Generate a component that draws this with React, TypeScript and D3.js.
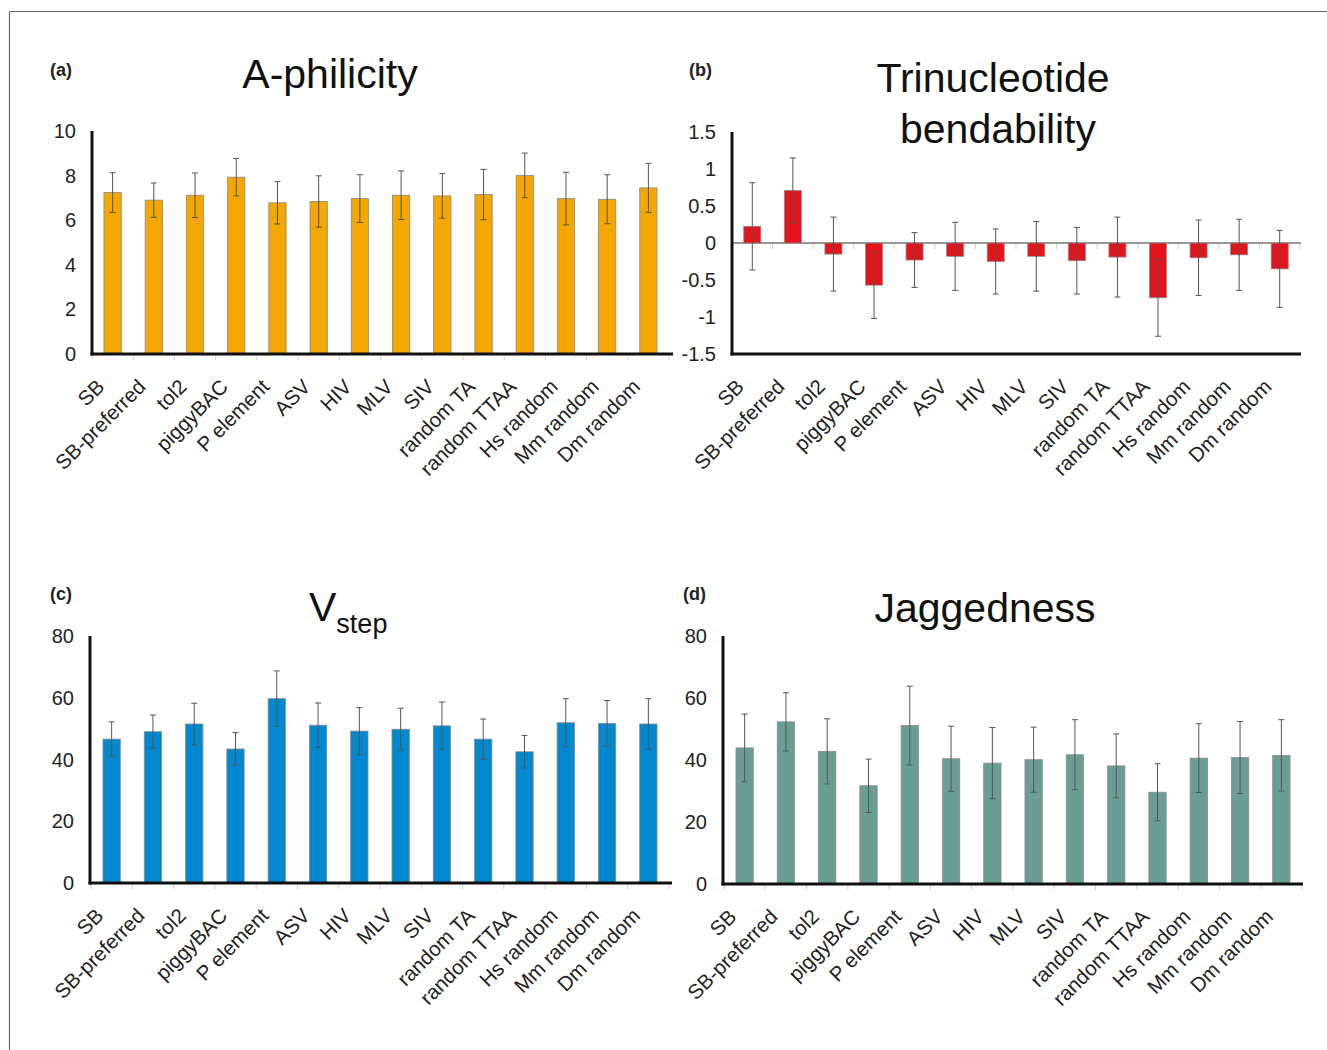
import React from "react";
import * as d3 from "d3";

const categories = ["SB", "SB-preferred", "tol2", "piggyBAC", "P element", "ASV", "HIV", "MLV", "SIV", "random TA", "random TTAA", "Hs random", "Mm random", "Dm random"];

const aphilicity = [7.24, 6.9, 7.12, 7.93, 6.78, 6.84, 6.97, 7.12, 7.09, 7.15, 8.01, 6.97, 6.94, 7.45];
const aphilicityErr = [0.89, 0.77, 1.0, 0.84, 0.95, 1.15, 1.07, 1.09, 1.0, 1.13, 1.0, 1.18, 1.1, 1.1];

const bendability = [0.225, 0.71, -0.15, -0.57, -0.23, -0.18, -0.25, -0.18, -0.24, -0.19, -0.74, -0.2, -0.16, -0.35];
const bendabilityErr = [0.59, 0.44, 0.5, 0.45, 0.37, 0.46, 0.44, 0.47, 0.45, 0.54, 0.52, 0.51, 0.48, 0.52];

const vstep = [46.6, 49.0, 51.5, 43.4, 59.7, 51.1, 49.2, 49.8, 50.9, 46.6, 42.5, 51.9, 51.7, 51.5];
const vstepErr = [5.6, 5.4, 6.7, 5.3, 9.0, 7.2, 7.6, 6.8, 7.7, 6.5, 5.3, 7.8, 7.4, 8.2];

const jaggedness = [43.9, 52.3, 42.8, 31.7, 51.1, 40.4, 39.0, 40.1, 41.7, 38.1, 29.6, 40.6, 40.8, 41.5];
const jaggednessErr = [10.9, 9.4, 10.5, 8.6, 12.7, 10.5, 11.5, 10.5, 11.3, 10.3, 9.2, 11.1, 11.6, 11.5];

const ticksA = [0, 2, 4, 6, 8, 10];
const ticksB = [-1.5, -1, -0.5, 0, 0.5, 1, 1.5];
const ticksC = [0, 20, 40, 60, 80];
const ticksD = [0, 20, 40, 60, 80];

const FONT = "'Liberation Sans', Arial, Helvetica, sans-serif";

type PanelProps = {
  values: number[];
  errors: number[];
  domain: [number, number];
  ticks: number[];
  color: string;
  axisX: number;
  rangeX: [number, number];
  axisEnd: number;
  top: number;
  bottom: number;
  zeroLine?: boolean;
};

function Panel(p: PanelProps) {
  const x = d3.scaleBand<string>().domain(categories).range(p.rangeX).paddingInner(0).paddingOuter(0);
  const bw = x.bandwidth();
  const barW = bw * 0.42;
  const y = d3.scaleLinear().domain(p.domain).range([p.bottom, p.top]);
  const y0 = y(Math.max(p.domain[0], 0));
  const tickY = p.zeroLine ? y(0) : p.bottom;
  return (
    <g>
      {d3.range(categories.length + 1).map((i) => {
        const tx = p.rangeX[0] + i * bw;
        return <line key={"bt" + i} x1={tx} x2={tx} y1={tickY} y2={tickY + 6} stroke="#d0d0d0" strokeWidth={1} />;
      })}
      {p.zeroLine && (
        <line x1={p.axisX} x2={p.axisEnd} y1={y(0)} y2={y(0)} stroke="#777" strokeWidth={1.5} />
      )}
      {categories.map((c, i) => {
        const v = p.values[i];
        const cx = (x(c) as number) + bw / 2;
        const yv = y(v);
        return (
          <rect key={"b" + i} x={cx - barW / 2} y={Math.min(yv, y0)} width={barW} height={Math.abs(y0 - yv)}
            fill={p.color} stroke="#8a8a8a" strokeWidth={0.8} />
        );
      })}
      {categories.map((c, i) => {
        const v = p.values[i];
        const e = p.errors[i];
        const cx = (x(c) as number) + bw / 2;
        const yt = y(v + e);
        const yb = y(v - e);
        return (
          <g key={"e" + i} stroke="#555" strokeWidth={1}>
            <line x1={cx} x2={cx} y1={yt} y2={yb} />
            <line x1={cx - 3} x2={cx + 3} y1={yt} y2={yt} />
            <line x1={cx - 3} x2={cx + 3} y1={yb} y2={yb} />
          </g>
        );
      })}
      <line x1={p.axisX} x2={p.axisX} y1={p.top} y2={p.bottom + 1.5} stroke="#111" strokeWidth={3} />
      <line x1={p.axisX - 1.5} x2={p.axisEnd} y1={p.bottom} y2={p.bottom} stroke="#111" strokeWidth={3} />
      {p.ticks.map((t) => (
        <text key={"yt" + t} x={p.axisX - 16} y={y(t)} dy="0.35em" textAnchor="end" fontSize={20} fill="#222" fontFamily={FONT}>
          {String(t)}
        </text>
      ))}
      {categories.map((c, i) => {
        const cx = (x(c) as number) + bw / 2;
        return (
          <text key={"xl" + i} transform={`translate(${cx - 7},${p.bottom + 34}) rotate(-45)`} textAnchor="end"
            fontSize={20.5} fill="#222" fontFamily={FONT}>
            {c}
          </text>
        );
      })}
    </g>
  );
}

export default function App() {
  return (
    <svg width={1327} height={1050} style={{ position: "absolute", left: 0, top: 0, background: "#fff" }}
      fontFamily={FONT}>
      <rect x={0} y={0} width={1327} height={1050} fill="#fff" />
      <line x1={9.5} x2={1327} y1={11.5} y2={11.5} stroke="#666" strokeWidth={1.2} />
      <line x1={9.5} x2={9.5} y1={11.5} y2={1050} stroke="#666" strokeWidth={1.2} />

      <text x={50} y={76} fontSize={18} fontWeight="bold" fill="#222">(a)</text>
      <text x={330} y={88} fontSize={41} textAnchor="middle" fill="#111">A-philicity</text>
      <Panel values={aphilicity} errors={aphilicityErr} domain={[0, 10]} ticks={ticksA} color="#F4A700"
        axisX={92} rangeX={[92, 669]} axisEnd={673} top={131} bottom={354} />

      <text x={689} y={76} fontSize={18} fontWeight="bold" fill="#222">(b)</text>
      <text x={993} y={92} fontSize={41} textAnchor="middle" fill="#111">Trinucleotide</text>
      <text x={998} y={143} fontSize={41} textAnchor="middle" fill="#111">bendability</text>
      <Panel values={bendability} errors={bendabilityErr} domain={[-1.5, 1.5]} ticks={ticksB} color="#E5141B"
        axisX={732} rangeX={[732, 1300]} axisEnd={1301} top={132} bottom={354} zeroLine />

      <text x={50} y={600} fontSize={18} fontWeight="bold" fill="#222">(c)</text>
      <text x={309} y={621} fontSize={41} fill="#111">V<tspan fontSize={27} dy={12}>step</tspan></text>
      <Panel values={vstep} errors={vstepErr} domain={[0, 80]} ticks={ticksC} color="#0089D0"
        axisX={90} rangeX={[91, 669]} axisEnd={672} top={636} bottom={883} />

      <text x={683} y={600} fontSize={18} fontWeight="bold" fill="#222">(d)</text>
      <text x={985} y={622} fontSize={41} textAnchor="middle" fill="#111">Jaggedness</text>
      <Panel values={jaggedness} errors={jaggednessErr} domain={[0, 80]} ticks={ticksD} color="#6A9E95"
        axisX={723} rangeX={[724, 1302]} axisEnd={1303} top={636} bottom={884} />
    </svg>
  );
}
